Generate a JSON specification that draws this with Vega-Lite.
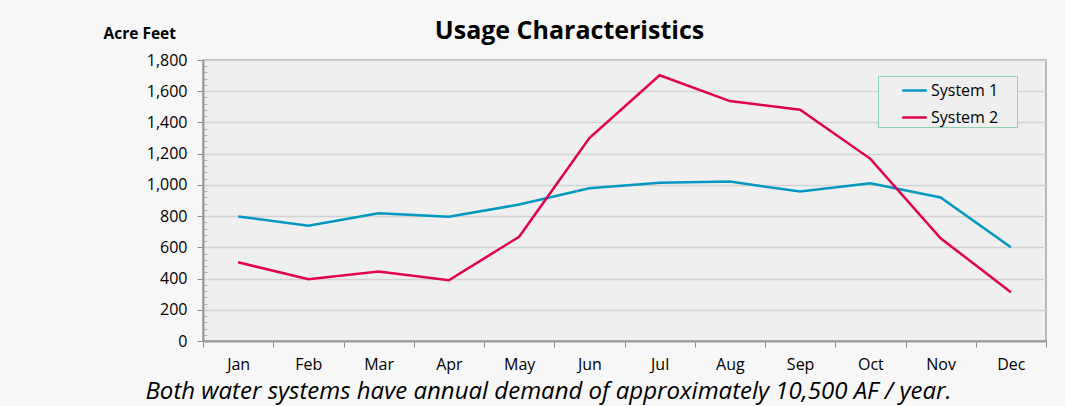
{
  "$schema": "https://vega.github.io/schema/vega-lite/v6.json",
  "width": 843,
  "height": 281,
  "autosize": "none",
  "padding": {"left": 203, "top": 60, "right": 19, "bottom": 65},
  "background": "#f7f7f7",
  "config": {
    "font": "Open Sans",
    "view": {"fill": "#efefef", "stroke": "#a6a6a6", "strokeWidth": 1.5}
  },
  "title": {
    "text": "Usage Characteristics",
    "fontSize": 25,
    "fontWeight": "bold",
    "color": "#000000",
    "anchor": "middle",
    "dx": -55,
    "dy": 18,
    "offset": 0
  },
  "data": {
    "values": [
      {"month": "Jan", "system": "System 1", "af": 798},
      {"month": "Feb", "system": "System 1", "af": 738},
      {"month": "Mar", "system": "System 1", "af": 819},
      {"month": "Apr", "system": "System 1", "af": 796},
      {"month": "May", "system": "System 1", "af": 874},
      {"month": "Jun", "system": "System 1", "af": 978},
      {"month": "Jul", "system": "System 1", "af": 1013},
      {"month": "Aug", "system": "System 1", "af": 1021},
      {"month": "Sep", "system": "System 1", "af": 957},
      {"month": "Oct", "system": "System 1", "af": 1010},
      {"month": "Nov", "system": "System 1", "af": 919},
      {"month": "Dec", "system": "System 1", "af": 600},
      {"month": "Jan", "system": "System 2", "af": 504},
      {"month": "Feb", "system": "System 2", "af": 396},
      {"month": "Mar", "system": "System 2", "af": 445},
      {"month": "Apr", "system": "System 2", "af": 389},
      {"month": "May", "system": "System 2", "af": 668},
      {"month": "Jun", "system": "System 2", "af": 1300},
      {"month": "Jul", "system": "System 2", "af": 1702},
      {"month": "Aug", "system": "System 2", "af": 1537},
      {"month": "Sep", "system": "System 2", "af": 1482},
      {"month": "Oct", "system": "System 2", "af": 1167},
      {"month": "Nov", "system": "System 2", "af": 658},
      {"month": "Dec", "system": "System 2", "af": 313}
    ]
  },
  "mark": {"type": "line", "strokeWidth": 2.5},
  "encoding": {
    "x": {
      "field": "month",
      "type": "nominal",
      "sort": ["Jan", "Feb", "Mar", "Apr", "May", "Jun", "Jul", "Aug", "Sep", "Oct", "Nov", "Dec"],
      "scale": {"type": "band", "paddingInner": 0, "paddingOuter": 0},
      "bandPosition": 0.5,
      "axis": {
        "title": "Both water systems have annual demand of approximately 10,500 AF / year.",
        "titleFontStyle": "italic",
        "titleFontWeight": "normal",
        "titleFontSize": 24,
        "titleColor": "#000000",
        "titleX": 345,
        "titleY": 57,
        "titleAlign": "center",
        "titleBaseline": "alphabetic",
        "tickBand": "extent",
        "labelAngle": 0,
        "labelFontSize": 16,
        "labelColor": "#000000",
        "labelPadding": 9,
        "tickSize": 6,
        "tickColor": "#8c8c8c",
        "domainColor": "#9a9a9a",
        "domainWidth": 2,
        "grid": false
      }
    },
    "y": {
      "field": "af",
      "type": "quantitative",
      "scale": {"domain": [0, 1800], "nice": false},
      "axis": {
        "title": "Acre Feet",
        "titleAngle": 0,
        "titleAlign": "left",
        "titleBaseline": "alphabetic",
        "titleX": -100,
        "titleY": -22,
        "titleFontSize": 15.5,
        "titleFontWeight": "bold",
        "titleColor": "#000000",
        "values": [0, 40, 80, 120, 160, 200, 240, 280, 320, 360, 400, 440, 480, 520, 560, 600, 640, 680, 720, 760, 800, 840, 880, 920, 960, 1000, 1040, 1080, 1120, 1160, 1200, 1240, 1280, 1320, 1360, 1400, 1440, 1480, 1520, 1560, 1600, 1640, 1680, 1720, 1760, 1800],
        "labelExpr": "datum.value % 200 === 0 ? format(datum.value, ',') : ''",
        "labelOverlap": false,
        "labelFontSize": 16,
        "labelColor": "#000000",
        "labelPadding": 10,
        "tickSize": {"condition": {"test": "datum.value % 200 === 0", "value": 6}, "value": -4},
        "tickColor": {"condition": {"test": "datum.value % 200 === 0", "value": "#8c8c8c"}, "value": "#b0b0b0"},
        "gridColor": "#d2d2d2",
        "gridWidth": 1.5,
        "gridOpacity": {"condition": {"test": "datum.value % 200 === 0 && datum.value > 0", "value": 1}, "value": 0},
        "domainColor": "#9a9a9a",
        "domainWidth": 2
      }
    },
    "color": {
      "field": "system",
      "type": "nominal",
      "scale": {"domain": ["System 1", "System 2"], "range": ["#0097c1", "#e0004f"]},
      "legend": {
        "title": "\u00a0",
        "titleOrient": "right",
        "titlePadding": 18,
        "titleFontSize": 8,
        "orient": "none",
        "legendX": 675,
        "legendY": 16,
        "strokeColor": "#8ed1ae",
        "fillColor": "#efefef",
        "padding": 1,
        "labelFontSize": 16,
        "labelColor": "#000000",
        "symbolType": "stroke",
        "symbolStrokeWidth": 2.5,
        "symbolSize": 600,
        "symbolOffset": 22,
        "rowPadding": 5,
        "labelOffset": 3
      }
    }
  }
}
